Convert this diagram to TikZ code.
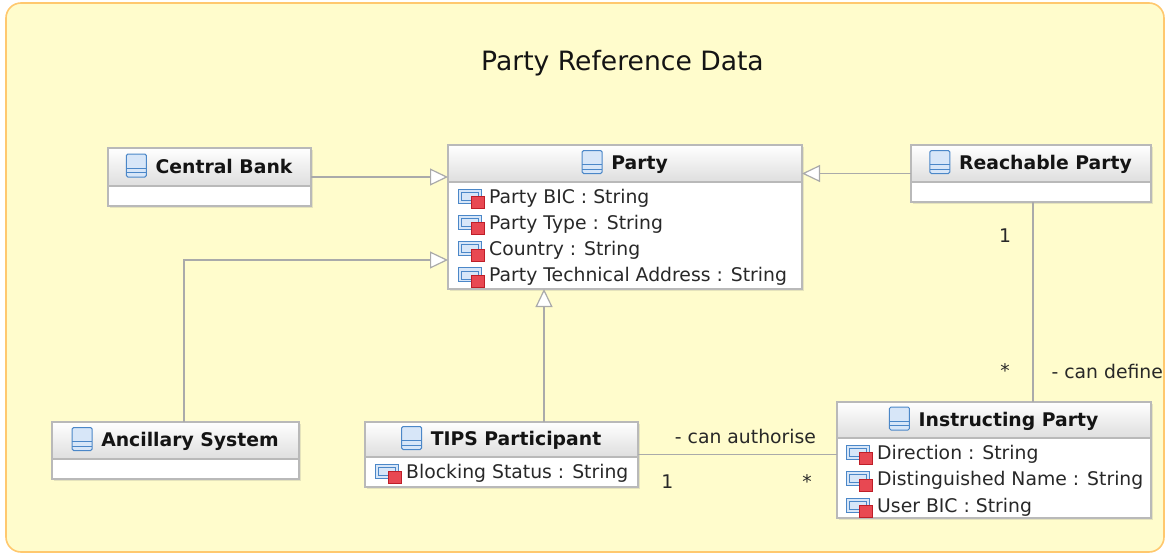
\documentclass[tikz,border=0pt]{standalone}
\usepackage{fontspec}
\setmainfont{DejaVu Sans}
\usetikzlibrary{arrows.meta, shadows}
\definecolor{pkgfill}{RGB}{255,252,204}
\definecolor{pkgline}{RGB}{255,200,110}
\definecolor{boxgray}{RGB}{185,185,185}
\definecolor{headgray}{RGB}{222,222,222}
\definecolor{linegray}{RGB}{170,170,170}
\definecolor{textblack}{RGB}{20,20,20}
\definecolor{textgray}{RGB}{40,40,40}
\definecolor{iconblue}{RGB}{75,135,200}
\definecolor{iconfill}{RGB}{215,230,248}
\definecolor{redfill}{RGB}{232,72,82}
\definecolor{reddark}{RGB}{190,30,40}
\newcommand{\bodyfont}{\fontsize{18.8}{22}\selectfont}
\tikzset{
  pkgframe/.style={draw=pkgline, fill=pkgfill, line width=1.6pt, rounded corners=15pt,
    anchor=north west, inner sep=0pt, outer sep=0pt},
  pkgtitle/.style={anchor=base, inner sep=0pt, font=\fontsize{26.6}{30}\selectfont, text=textblack},
  classbox/.style={draw=boxgray, fill=white, line width=1.2pt, anchor=north west,
    inner sep=0pt, outer sep=0pt,
    drop shadow={shadow xshift=2pt, shadow yshift=-2pt, opacity=0.2}},
  classhead/.style={draw=boxgray, line width=1.2pt, top color=white, bottom color=headgray,
    anchor=north west, inner sep=0pt, outer sep=0pt},
  classname/.style={anchor=base, inner sep=0pt, font=\bodyfont\bfseries, text=textblack},
  attr/.style={anchor=base west, inner sep=0pt, font=\bodyfont, text=textgray},
  role/.style={inner sep=0pt, font=\bodyfont, text=textgray},
  gen/.style={draw=linegray, line width=1.2pt, -{Triangle[open, length=18pt, width=17pt, fill=white]}},
  assoc/.style={draw=linegray, line width=1.2pt},
  clsicon/.pic={
    \draw[iconblue, line width=1pt, fill=iconfill, rounded corners=1.5pt] (-29,-19) rectangle (-9,4);
    \draw[iconblue, line width=1pt] (-29,-5) -- (-9,-5) (-29,-0.5) -- (-9,-0.5);
  },
  attricon/.pic={
    \draw[iconblue, line width=1pt, fill=iconfill] (-30.5,-14) rectangle (-7.5,0);
    \draw[iconblue, line width=0.8pt] (-27.5,-11) rectangle (-10.5,-3);
    \draw[reddark, line width=0.8pt, fill=redfill] (-17.5,-6.5) rectangle (-4.5,5.5);
  }
}
\begin{document}
\begin{tikzpicture}[x=1pt, y=-1pt]
\useasboundingbox (0,0) rectangle (1166,555);
\node[pkgframe, minimum width=1158pt, minimum height=549pt] (pkg) at (6,3) {};
\node[pkgtitle] (pkgname) at (622.5,70) {Party Reference Data};

% classes
\node[classbox, minimum width=203pt, minimum height=58pt] (cb) at (108,148) {};
\node[classhead, minimum width=203pt, minimum height=38pt] (cbh) at (cb.north west) {};
\node[classname] (cbn) at ([xshift=14.5pt, yshift=-6pt]cbh.center) {Central Bank};
\pic at (cbn.base west) {clsicon};

\node[classbox, minimum width=354pt, minimum height=144pt] (party) at (448,145) {};
\node[classhead, minimum width=354pt, minimum height=37pt] (partyh) at (party.north west) {};
\node[classname] (partyn) at ([xshift=14.5pt, yshift=-6pt]partyh.center) {Party};
\pic at (partyn.base west) {clsicon};
\node[attr] (pa1) at ([xshift=41pt, yshift=-21pt]partyh.south west) {Party BIC : String};
\node[attr] (pa2) at ([yshift=-26.3pt]pa1.base west) {Party Type : String};
\node[attr] (pa3) at ([yshift=-26.3pt]pa2.base west) {Country : String};
\node[attr] (pa4) at ([yshift=-26.3pt]pa3.base west) {Party Technical Address : String};
\pic at (pa1.base west) {attricon};
\pic at (pa2.base west) {attricon};
\pic at (pa3.base west) {attricon};
\pic at (pa4.base west) {attricon};

\node[classbox, minimum width=240pt, minimum height=57pt] (rp) at (911,145) {};
\node[classhead, minimum width=240pt, minimum height=37pt] (rph) at (rp.north west) {};
\node[classname] (rpn) at ([xshift=14.5pt, yshift=-6pt]rph.center) {Reachable Party};
\pic at (rpn.base west) {clsicon};

\node[classbox, minimum width=247pt, minimum height=57pt] (as) at (52,422) {};
\node[classhead, minimum width=247pt, minimum height=37pt] (ash) at (as.north west) {};
\node[classname] (asn) at ([xshift=14.5pt, yshift=-6pt]ash.center) {Ancillary System};
\pic at (asn.base west) {clsicon};

\node[classbox, minimum width=273pt, minimum height=65pt] (tp) at (365,422) {};
\node[classhead, minimum width=273pt, minimum height=35pt] (tph) at (tp.north west) {};
\node[classname] (tpn) at ([xshift=14.5pt, yshift=-6pt]tph.center) {TIPS Participant};
\pic at (tpn.base west) {clsicon};
\node[attr] (ta1) at ([xshift=41pt, yshift=-21pt]tph.south west) {Blocking Status : String};
\pic at (ta1.base west) {attricon};

\node[classbox, minimum width=314pt, minimum height=116pt] (ip) at (837,402) {};
\node[classhead, minimum width=314pt, minimum height=36pt] (iph) at (ip.north west) {};
\node[classname] (ipn) at ([xshift=14.5pt, yshift=-6pt]iph.center) {Instructing Party};
\pic at (ipn.base west) {clsicon};
\node[attr] (ia1) at ([xshift=40pt, yshift=-21pt]iph.south west) {Direction : String};
\node[attr] (ia2) at ([yshift=-26.5pt]ia1.base west) {Distinguished Name : String};
\node[attr] (ia3) at ([yshift=-26.5pt]ia2.base west) {User BIC : String};
\pic at (ia1.base west) {attricon};
\pic at (ia2.base west) {attricon};
\pic at (ia3.base west) {attricon};

% generalisations
\draw[gen] (cb.east) -- (cb.east -| party.west);
\draw[gen] (rp.west) -- (rp.west -| party.east);
\draw[gen] ([xshift=8.5pt]as.north) |- ([yshift=-43pt]party.west);
\draw[gen] ([xshift=42.5pt]tp.north) -- ([xshift=42.5pt]tp.north |- party.south);

% associations
\draw[assoc] ([xshift=2pt]rp.south) -- ([xshift=2pt]rp.south |- ip.north)
  node[role, pos=0.2, anchor=base, xshift=-28pt] (rpm) {1}
  node[role, pos=0.875, anchor=base, xshift=-28pt] (ipm) {*}
  node[role, pos=0.88, anchor=base west, xshift=18pt] (canDefine) {- can define};
\draw[assoc] (tp.east) -- (tp.east -| ip.west)
  node[role, pos=0.54, anchor=base, yshift=11pt] (canAuth) {- can authorise}
  node[role, pos=0.148, anchor=base, yshift=-34pt] (tpm) {1}
  node[role, pos=0.85, anchor=base, yshift=-34pt] (ipm2) {*};
\end{tikzpicture}
\end{document}
